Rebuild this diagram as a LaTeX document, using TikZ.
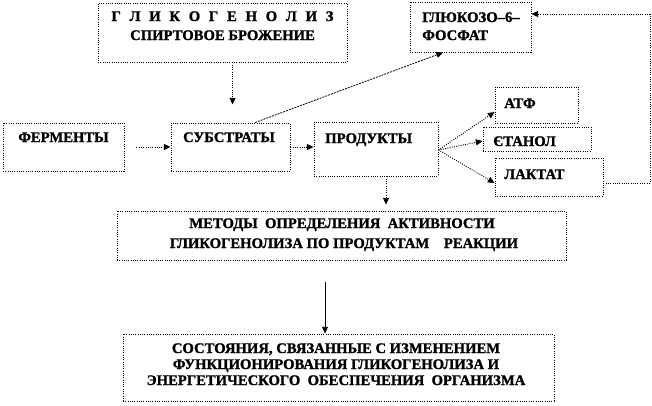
\documentclass[tikz,border=0pt]{standalone}
\usepackage{fontspec}
\setmainfont{Liberation Serif}[BoldFeatures={FakeBold=1.2}]
\usetikzlibrary{arrows.meta,fit}
\begin{document}
\begin{tikzpicture}[x=0.75pt,y=-0.75pt,
  box/.style={draw, densely dotted, line width=0.7pt, inner sep=0pt},
  txt/.style={font=\fontsize{11}{13}\selectfont\bfseries, inner sep=0pt, anchor=base},
  txtl/.style={txt, anchor=base west},
  arr/.style={densely dotted, line width=0.7pt, -{Triangle[length=5pt,width=4.5pt]}},
  dasharr/.style={dash pattern=on 1.5pt off 0.75pt, line width=0.6pt, -{Triangle[length=5pt,width=4.5pt]}},
  solidarr/.style={line width=0.6pt, -{Triangle[length=5pt,width=4.5pt]}}]
\useasboundingbox (0,0) rectangle (652,405);
% boxes
\node[box, fit={(98,3) (347,62)}] (glyco) {};
\node[box, fit={(410,2) (531,52)}] (gluc) {};
\node[box, fit={(3,123) (124,171)}] (ferm) {};
\node[box, fit={(171,123) (290,171)}] (subs) {};
\node[box, fit={(314,122) (438,176)}] (prod) {};
\node[box, fit={(495,87) (578,123)}] (atf) {};
\node[box, fit={(483,127) (591,151)}] (etan) {};
\node[box, fit={(495,158) (603,196)}] (lact) {};
\node[box, fit={(117,211) (566,260)}] (meth) {};
\node[box, fit={(123,334) (554,401)}] (state) {};
% texts
\node[txt] (glycoA) at (222.5,21) {\makebox[166.5pt][s]{Г\hfil Л\hfil И\hfil К\hfil О\hfil Г\hfil Е\hfil Н\hfil О\hfil Л\hfil И\hfil З}};
\node[txt] (glycoB) at (222.5,40) {СПИРТОВОЕ БРОЖЕНИЕ};
\node[txtl] (glucA) at (422,22) {ГЛЮКОЗО–6–};
\node[txtl] (glucB) at (422,40) {ФОСФАТ};
\node[txt] (fermT) at (63.5,142) {ФЕРМЕНТЫ};
\node[txt] (subsT) at (229,142) {СУБСТРАТЫ};
\node[txtl] (prodT) at (325,143) {ПРОДУКТЫ};
\node[txtl] (atfT) at (504,108) {АТФ};
\node[txtl] (etanT) at (493,146) {ЄТАНОЛ};
\node[txtl] (lactT) at (504,179) {ЛАКТАТ};
\node[txt] (methA) at (342,228) {МЕТОДЫ\ \ ОПРЕДЕЛЕНИЯ\ \ АКТИВНОСТИ};
\node[txt] (methB) at (344,248) {ГЛИКОГЕНОЛИЗА ПО ПРОДУКТАМ\ \ \ \ РЕАКЦИИ};
\node[txt] (stateA) at (336,353) {СОСТОЯНИЯ, СВЯЗАННЫЕ С ИЗМЕНЕНИЕМ};
\node[txt] (stateB) at (336,369) {ФУНКЦИОНИРОВАНИЯ ГЛИКОГЕНОЛИЗА И};
\node[txt] (stateC) at (336,385) {ЭНЕРГЕТИЧЕСКОГО\ \ ОБЕСПЕЧЕНИЯ\ \ ОРГАНИЗМА};
% coordinates
\coordinate (c1) at (650,183);
\coordinate (c2) at (650,14);
\coordinate (ax) at (325,0);
% connectors
\draw[arr, shorten >=13.5pt] ([xshift=1.5pt]subs.north |- glyco.south) -- ([xshift=1.5pt]subs.north);
\draw[arr, shorten <=9pt] (ferm.east) -- (subs.west);
\draw[arr] (subs.east) -- (subs.east -| prod.west);
\draw[dasharr] ([xshift=18.4pt]subs.north) -- ([xshift=-20.6pt]gluc.south);
\draw[arr] ([yshift=-0.75pt]prod.east) -- ([yshift=-5.25pt]atf.west);
\draw[arr] ([yshift=-0.75pt]prod.east) -- ([yshift=-1.5pt]etan.west);
\draw[arr] ([yshift=-0.75pt]prod.east) -- ([yshift=-4.5pt]lact.west);
\draw[arr] (lact.east |- c1) -- (c1) -- (c2) -- (c2 -| gluc.east);
\draw[arr, shorten >=4.5pt] ([xshift=7.5pt]prod.south) -- ([xshift=7.5pt]prod.south |- meth.north);
\draw[solidarr, shorten <=16.5pt] (ax |- meth.south) -- (ax |- state.north);
\end{tikzpicture}
\end{document}
